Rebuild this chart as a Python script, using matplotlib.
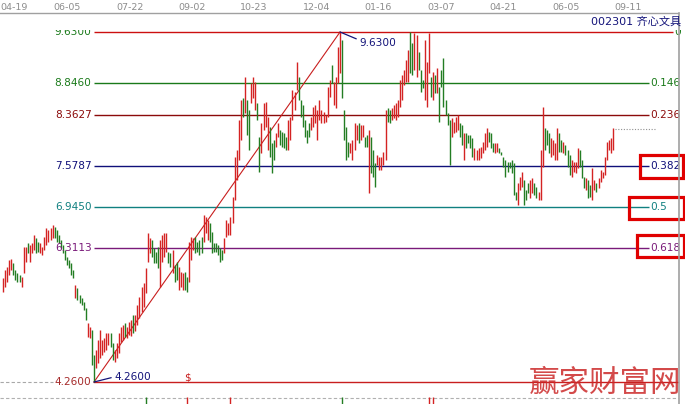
import matplotlib
matplotlib.use("Agg")
import matplotlib.pyplot as plt
from matplotlib.patches import Rectangle
from matplotlib.lines import Line2D
from matplotlib.transforms import Bbox, TransformedBbox

# ---------------- data ----------------
dates = ["04-19", "06-05", "07-22", "09-02", "10-23", "12-04",
         "01-16", "03-07", "04-21", "06-05", "09-11"]

high = [
    5.86, 5.98, 6.02, 6.13, 6.15, 6.09, 5.98, 5.93, 5.90, 5.87,
    6.33, 6.33, 6.39, 6.36, 6.39, 6.52, 6.47, 6.41, 6.39, 6.33,
    6.48, 6.62, 6.59, 6.62, 6.67, 6.64, 6.59, 6.52, 6.44, 6.36,
    6.29, 6.18, 6.13, 6.09, 5.98, 5.75, 5.70, 5.59, 5.55, 5.49,
    5.40, 5.16, 5.10, 5.06, 4.67,
    4.75, 4.90, 5.06, 4.90, 4.94, 5.01, 5.01, 5.01, 4.86, 4.75,
    4.86, 5.01, 5.10, 5.13, 5.16, 5.10, 5.18, 5.21, 5.29, 5.29,
    5.44, 5.56, 5.72, 5.78, 6.01, 6.55, 6.47, 6.44, 6.32, 6.25,
    6.33, 6.44, 6.52, 6.55, 6.55, 6.25, 6.24, 6.29, 6.05, 6.10,
    6.02, 5.95, 5.93, 5.95, 5.87, 6.41, 6.48, 6.47, 6.48, 6.41,
    6.44, 6.48, 6.82, 6.79, 6.75, 6.70, 6.56, 6.39, 6.39, 6.36,
    6.32, 6.29, 6.47, 6.75, 6.70, 6.79, 7.10, 7.71, 7.82, 8.28,
    8.59, 8.62, 8.94, 8.59, 8.43, 8.85, 8.94, 8.86, 8.54, 8.02,
    8.23, 8.54, 8.56, 8.33, 8.17, 7.93, 7.97, 8.08, 8.23, 8.13,
    8.10, 8.08, 8.02, 8.28, 8.33, 8.74, 8.71, 9.17, 8.94, 8.59,
    8.51, 8.28, 8.13, 8.23, 8.33, 8.48, 8.51, 8.43, 8.59, 8.43,
    8.40, 8.36, 8.79, 8.89, 9.12, 8.86, 8.94, 9.40, 9.63, 9.51,
    8.43, 8.17, 7.94, 7.93, 7.97, 8.23, 8.20, 8.23, 8.20, 8.20,
    8.02, 8.05, 8.13, 8.02, 7.82, 7.62, 7.74, 7.71, 7.71, 7.79,
    8.43, 8.46, 8.43, 8.46, 8.51, 8.54, 8.59, 8.89, 8.97, 9.05,
    9.20, 9.35, 9.63, 9.46, 9.61, 9.58, 9.32, 9.05, 8.89, 9.51,
    9.17, 9.61, 8.94, 9.02, 8.97, 9.08, 8.79, 9.05, 9.23, 8.59,
    8.39, 8.28, 8.31, 8.25, 8.33, 8.36, 8.23, 8.20, 8.08, 8.08,
    8.05, 8.05, 8.00, 7.85, 7.82, 7.85, 7.86, 7.94, 8.08, 8.16,
    8.10, 8.08, 7.93, 7.93, 7.93, 7.85, 7.79, 7.71, 7.67, 7.64,
    7.64, 7.67, 7.62, 7.18, 7.31, 7.40, 7.48, 7.36, 7.21, 7.31,
    7.36, 7.39, 7.31, 7.25, 7.18, 7.82, 8.48, 8.16, 8.13, 8.08,
    8.00, 7.97, 7.93, 8.16, 8.08, 7.97, 7.94, 7.90, 7.82, 7.74,
    7.67, 7.64, 7.64, 7.85, 7.82, 7.67, 7.40, 7.39, 7.36, 7.28,
    7.54, 7.36, 7.31, 7.39, 7.51, 7.48, 7.71, 7.94, 7.97, 8.00, 8.16,
]

low = [
    5.64, 5.72, 5.79, 5.90, 5.98, 5.90, 5.82, 5.79, 5.79, 5.72,
    5.93, 6.10, 6.24, 6.10, 6.24, 6.29, 6.24, 6.25, 6.24, 6.21,
    6.29, 6.36, 6.41, 6.44, 6.47, 6.47, 6.41, 6.39, 6.32, 6.24,
    6.13, 6.05, 6.01, 5.90, 5.86, 5.55, 5.52, 5.47, 5.44, 5.36,
    5.21, 4.95, 4.94, 4.52, 4.26,
    4.48, 4.55, 4.63, 4.67, 4.72, 4.75, 4.83, 4.80, 4.60, 4.57,
    4.63, 4.70, 4.87, 4.90, 4.95, 4.94, 4.98, 4.97, 5.01, 5.04,
    5.13, 5.24, 5.33, 5.41, 5.62, 6.10, 6.24, 6.18, 6.09, 6.09,
    6.01, 5.72, 6.10, 6.18, 6.25, 6.09, 6.02, 5.93, 5.79, 5.82,
    5.67, 5.72, 5.67, 5.67, 5.64, 5.79, 6.13, 6.29, 6.24, 6.25,
    6.21, 6.24, 6.41, 6.55, 6.44, 6.41, 6.24, 6.25, 6.25, 6.21,
    6.10, 6.13, 6.24, 6.48, 6.52, 6.52, 6.70, 7.05, 7.36, 7.67,
    7.97, 8.33, 8.39, 8.05, 7.82, 8.54, 8.62, 8.43, 8.28, 7.48,
    7.77, 8.13, 8.17, 7.82, 7.71, 7.47, 7.67, 7.86, 8.02, 7.90,
    7.86, 7.85, 7.82, 7.82, 7.97, 8.28, 8.43, 8.74, 8.59, 8.33,
    8.17, 8.02, 7.93, 8.02, 8.13, 8.17, 8.23, 7.97, 8.28, 8.23,
    8.23, 8.25, 8.33, 8.63, 8.85, 8.51, 8.46, 8.85, 9.00, 8.62,
    7.97, 7.67, 7.71, 7.77, 7.67, 7.82, 7.97, 7.93, 7.97, 8.02,
    7.86, 7.86, 7.16, 7.47, 7.40, 7.25, 7.59, 7.51, 7.51, 7.59,
    7.67, 8.25, 8.23, 8.28, 8.31, 8.28, 8.33, 8.48, 8.59, 8.82,
    8.86, 8.86, 9.00, 8.97, 9.05, 8.94, 9.05, 8.71, 8.77, 8.59,
    8.48, 9.00, 8.63, 8.59, 8.69, 8.69, 8.25, 8.79, 8.48, 8.36,
    8.20, 7.59, 8.02, 8.08, 8.10, 8.13, 8.02, 7.90, 7.67, 7.85,
    7.93, 7.85, 7.71, 7.67, 7.67, 7.67, 7.70, 7.77, 7.82, 7.86,
    7.94, 7.85, 7.79, 7.77, 7.79, 7.77, 7.74, 7.56, 7.40, 7.48,
    7.54, 7.47, 7.13, 7.05, 6.98, 7.21, 7.25, 6.98, 7.05, 7.16,
    7.08, 7.16, 7.13, 7.08, 7.05, 7.05, 7.56, 7.82, 7.90, 7.77,
    7.71, 7.74, 7.67, 7.67, 7.79, 7.79, 7.77, 7.74, 7.56, 7.44,
    7.40, 7.48, 7.47, 7.54, 7.56, 7.39, 7.24, 7.21, 7.08, 7.10,
    7.05, 7.21, 7.18, 7.24, 7.33, 7.39, 7.44, 7.67, 7.82, 7.77, 7.82,
]

# R = close above open (red), G = close below open (green)
direction = (
    "RRRRRGGGGR" "RRGRRRGGRR" "RRRRRGGGGG" "GGGGGRGGGG" "GRRGG"
    "RRRRRRRGGR" "RRRRGRRRGR" "RRRRRRRGGG" "GRRRRGGRGG" "RRRGGRRRGG"
    "GGRRRGGGGG" "GGRRRRRRRR" "RGRGGRRRGG" "RRRRGGGRRG" "GGGRRRRRGG"
    "GGGGRRRRRR" "RRRRGRRRRG" "GGGRRRRGRR" "GGRGGGRRRR" "RGGRRRRRRR"
    "RRGGRRGGGR" "RRGRGRGGGG" "GGRRRRGGRG" "GGGRRRRRRR" "GGGRRGGGGG"
    "GGGGRRRGGG" "RRGGRRRGGG" "RRRRGGRGGG" "RRRRGGGRGG" "RRGRRRRRRRR"
)

fib_ratios = [0.0, 0.146, 0.236, 0.382, 0.5, 0.618]
fib_right_labels = ["0", "0.146", "0.236", "0.382", "0.5", "0.618"]
last_close = 8.14
dividend_idx = 89
vol_spike_idx = [69, 89, 110, 164, 206, 208]
vol_spike_dir = "GRRGRR"
stock_title = "002301 齐心文具"
watermark = "赢家财富网"

# ---------------- styles / layout ----------------
W, H, DPI = 685, 404, 100
RED = "#d42323"
GREEN = "#237d23"
fib_line_colors = ["#cc1010", "#1a7a1a", "#8b0a0a", "#10107a", "#108080", "#7a1a7a"]
fib_text_colors = ["#1a7a1a", "#1a7a1a", "#8b0a0a", "#10107a", "#108080", "#7a1a7a"]
NAVY = "#14147a"

n = min(len(high), len(low), len(direction))
hi_idx = max(range(n), key=lambda i: high[i])
lo_idx = min(range(n), key=lambda i: low[i])
swing_hi = high[hi_idx]
swing_lo = low[lo_idx]

X0, X1 = 3.0, 613.0          # pixel column of first / last bar
Y_HI, Y_LO = 32.0, 382.0     # pixel rows of swing high / low
dx = (X1 - X0) / (n - 1)
k = (swing_hi - swing_lo) / (Y_LO - Y_HI)


def px2i(px):
    return (px - X0) / dx


def fx(px):
    return px / W


def fy(py):
    return 1 - py / H


fig = plt.figure(figsize=(W / DPI, H / DPI), dpi=DPI)
fig.patch.set_facecolor("white")
ax = fig.add_axes([0, 0, 1, 1])
ax.set_axis_off()
ax.set_xlim(-X0 / dx, (W - X0) / dx)
ax.set_ylim(swing_hi - (H - Y_HI) * k, swing_hi + Y_HI * k)

clip = TransformedBbox(Bbox.from_extents(0, 0, 1, 1 - 29.5 / H), fig.transFigure)

# fib levels
for r, lc, tc, rl in zip(fib_ratios, fib_line_colors, fib_text_colors, fib_right_labels):
    level = swing_hi - r * (swing_hi - swing_lo)
    x_end = px2i(673 if r == 0 else 649)
    ax.plot([lo_idx, x_end], [level, level], color=lc, lw=1.0, solid_capstyle="butt")
    t1 = ax.text(px2i(91.5), level, f"{level:.4f}", color=tc, fontsize=7.6,
                 ha="right", va="center")
    t2 = ax.text(x_end + 0.4, level, rl, color=tc, fontsize=7.6, ha="left", va="center")
    if r == 0:
        for t in (t1, t2):
            t.set_clip_box(clip)
            t.set_clip_on(True)

# swing low line
ax.plot([lo_idx, px2i(678)], [swing_lo, swing_lo], color="#c81e1e", lw=1.0)
ax.plot([px2i(0), px2i(53)], [swing_lo, swing_lo], color="#a8a8a8", lw=0.8,
        ls=(0, (3, 2)))
ax.text(px2i(91.5), swing_lo, f"{swing_lo:.4f}", color="#a52a2a", fontsize=7.6,
        ha="right", va="center")

# trend line low -> high
ax.plot([lo_idx, hi_idx], [swing_lo, swing_hi], color="#c81e1e", lw=0.8)

# bars
idx = list(range(n))
cols = [RED if d == "R" else GREEN for d in direction[:n]]
ax.vlines(idx, low[:n], high[:n], colors=cols, lw=1.0)

# last price dotted
ax.plot([px2i(615), px2i(655)], [last_close, last_close], color="#909090", lw=0.8,
        ls=(0, (1, 1.5)))

# annotations of swing points
ax.annotate(f"{swing_lo:.4f}", xy=(lo_idx, swing_lo), xytext=(20, 5),
            textcoords="offset pixels", color=NAVY, fontsize=7.6, ha="left", va="center",
            arrowprops=dict(arrowstyle="-", color=NAVY, lw=0.9, shrinkA=0, shrinkB=0,
                            relpos=(0, 0.5)))
ax.annotate(f"{swing_hi:.4f}", xy=(hi_idx, swing_hi), xytext=(19, -11),
            textcoords="offset pixels", color=NAVY, fontsize=7.6, ha="left", va="center",
            arrowprops=dict(arrowstyle="-", color=NAVY, lw=0.9, shrinkA=0, shrinkB=0,
                            relpos=(0, 0.8)))

# dividend marker
ax.annotate("$", xy=(dividend_idx, swing_lo), xytext=(0, 5), textcoords="offset pixels",
            color="#c81e1e", fontsize=7.5, ha="center", va="center")

# bottom separator and volume spike stubs
ybot = swing_hi - (H - Y_HI) * k
ax.plot([px2i(0), px2i(678)], [swing_hi - (398 - Y_HI) * k] * 2, color="#b0b0b0",
        lw=0.8, ls=(0, (3, 2)))
for vi, vd in zip(vol_spike_idx, vol_spike_dir):
    ax.vlines(vi, ybot, swing_hi - (397 - Y_HI) * k, colors=RED if vd == "R" else GREEN,
              lw=1.0)

# frame lines
fig.add_artist(Line2D([0, fx(678)], [fy(13), fy(13)], transform=fig.transFigure,
                      color="#a0a0a0", lw=1.0))
fig.add_artist(Line2D([fx(678.5), fx(678.5)], [fy(13), 0], transform=fig.transFigure,
                      color="#a0a0a0", lw=1.2))

# date labels on top
date_px = [0.5, 67, 130, 192, 254, 317, 378, 441, 503, 566, 628]
for j, (d, p) in enumerate(zip(dates, date_px)):
    fig.text(fx(p), fy(7), d, color="#8c8c8c", fontsize=6.8,
             ha="left" if j == 0 else "center", va="center")

# title
fig.text(fx(681), fy(22), stock_title, color="#14147a", fontsize=8, ha="right",
         va="center", family=["DejaVu Sans", "Noto Sans CJK SC"])

# red highlight boxes
for (x1, y1, x2, y2) in [(640, 155, 683, 178), (629, 197, 684, 219), (637, 235, 684, 257)]:
    fig.add_artist(Rectangle((fx(x1), fy(y2)), (x2 - x1) / W, (y2 - y1) / H,
                             transform=fig.transFigure, fill=False, ec="#e00000", lw=2.3))

# watermark
fig.text(fx(605), fy(383), watermark, color="#cc2a2a", fontsize=22, ha="center",
         va="center", family=["Noto Sans CJK SC"], fontweight="light", alpha=0.85)

fig.savefig("out.png", dpi=DPI, facecolor="white")
